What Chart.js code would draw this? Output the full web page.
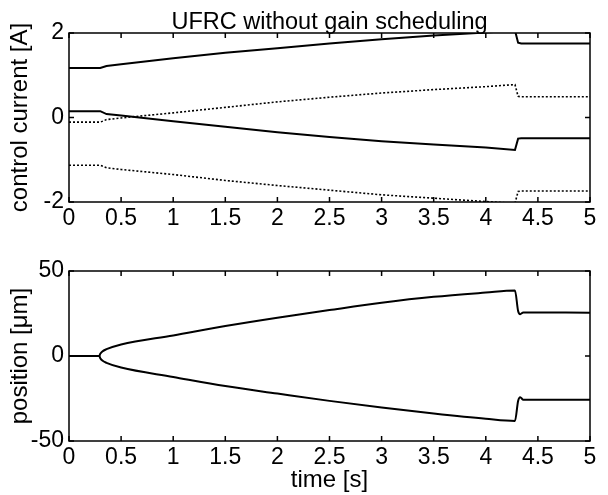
<!DOCTYPE html>
<html>
<head>
<meta charset="utf-8">
<script src="https://cdn.jsdelivr.net/npm/chart.js@4/dist/chart.umd.min.js"></script>
<style>
  html, body { margin: 0; padding: 0; background: #fff; }
  #wrap { position: relative; width: 608px; height: 495px; background: #fff; overflow: hidden; }
  canvas { position: absolute; left: 0; }
  #cTop { top: 0; }
  #cBot { top: 250px; }
</style>
</head>
<body>
<div id="wrap">
  <canvas id="cTop" width="608" height="250"></canvas>
  <canvas id="cBot" width="608" height="245"></canvas>
</div>
<script>
// ---- control currents [A] ----
const timeCurrent   = [0, 0.30, 0.36, 0.5, 1, 1.5, 2, 2.5, 3, 3.5, 4, 4.28, 4.31, 4.34, 5];
const coilUpperA    = [1.17, 1.17, 1.22, 1.26, 1.40, 1.53, 1.64, 1.75, 1.85, 1.94, 2.01, 2.06, 1.77, 1.75, 1.75];
const coilLowerA    = [0.15, 0.15, 0.08, 0.05, -0.09, -0.22, -0.35, -0.46, -0.56, -0.64, -0.71, -0.77, -0.50, -0.49, -0.49];
const coilUpperB    = [-0.11, -0.11, -0.05, -0.01, 0.11, 0.24, 0.37, 0.48, 0.58, 0.66, 0.73, 0.78, 0.50, 0.49, 0.49];
const coilLowerB    = [-1.13, -1.13, -1.19, -1.23, -1.35, -1.49, -1.61, -1.72, -1.83, -1.91, -1.99, -2.03, -1.75, -1.74, -1.74];

// ---- rotor position [um] ----
const timePosition  = [0, 0.29, 0.30, 0.32, 0.36, 0.5, 1, 1.5, 2, 2.5, 3, 3.5, 4, 4.28, 4.31, 4.33, 4.36, 5];
const positionUpper = [0, 0, 1.3, 2.7, 4.0, 6.8, 12.1, 17.6, 22.5, 27.0, 31.3, 34.8, 37.3, 38.5, 26.5, 24.6, 25.6, 25.5];
const positionLower = [0, 0, -1.3, -2.7, -4.0, -6.8, -12.3, -17.7, -22.1, -26.4, -30.3, -33.8, -36.9, -38.2, -26.5, -24.3, -25.7, -25.8];

// ---- tick labels ----
const timeTicks     = [0, 0.5, 1, 1.5, 2, 2.5, 3, 3.5, 4, 4.5, 5];
const currentTicks  = [-2, 0, 2];
const positionTicks = [-50, 0, 50];

const FONT = '"Liberation Sans", Arial, Helvetica, sans-serif';
Chart.defaults.font.family = FONT;
Chart.defaults.font.size = 23;
Chart.defaults.color = '#000';

function pairs(xs, ys) { return xs.map((x, i) => ({ x: x, y: ys[i] })); }

function line(xs, ys, dotted, smooth) {
  return {
    data: pairs(xs, ys),
    borderColor: '#000',
    borderWidth: dotted ? 1.6 : 2,
    borderDash: dotted ? [2, 2] : [],
    pointRadius: 0,
    fill: false,
    tension: 0,
    cubicInterpolationMode: smooth ? 'monotone' : 'default'
  };
}

// box around the axes with inward-pointing ticks on all four sides
const boxPlugin = {
  id: 'axesBox',
  afterDatasetsDraw(chart) {
    const { ctx, chartArea: a, scales } = chart;
    const x = scales.x, y = scales.y, len = 5;
    ctx.save();
    ctx.strokeStyle = '#000';
    ctx.lineWidth = 1.5;
    ctx.beginPath();
    x.ticks.forEach(t => {
      const px = x.getPixelForValue(t.value);
      ctx.moveTo(px, a.bottom); ctx.lineTo(px, a.bottom - len);
      ctx.moveTo(px, a.top);    ctx.lineTo(px, a.top + len);
    });
    y.ticks.forEach(t => {
      const py = y.getPixelForValue(t.value);
      ctx.moveTo(a.left, py);  ctx.lineTo(a.left + len, py);
      ctx.moveTo(a.right, py); ctx.lineTo(a.right - len, py);
    });
    ctx.stroke();
    ctx.strokeRect(a.left, a.top, a.right - a.left, a.bottom - a.top);
    ctx.restore();
  }
};

// title centred over the plotting box, sitting just above its top edge
const axesTitlePlugin = {
  id: 'axesTitle',
  afterDraw(chart, args, opts) {
    if (!opts.text) return;
    const { ctx, chartArea: a } = chart;
    ctx.save();
    ctx.font = opts.size + 'px ' + FONT;
    ctx.fillStyle = '#000';
    ctx.textAlign = 'center';
    ctx.textBaseline = 'alphabetic';
    ctx.fillText(opts.text, (a.left + a.right) / 2, a.top - opts.gap);
    ctx.restore();
  }
};

function fixedTicks(values) {
  return scale => { scale.ticks = values.map(v => ({ value: v })); };
}

function makeChart(id, datasets, cfg) {
  return new Chart(document.getElementById(id), {
    type: 'line',
    data: { datasets: datasets },
    plugins: [boxPlugin, axesTitlePlugin],
    options: {
      responsive: false,
      animation: false,
      layout: { padding: { left: 0, right: 18, top: cfg.padTop, bottom: 0 } },
      plugins: {
        legend: { display: false },
        tooltip: { enabled: false },
        title: { display: false },
        axesTitle: { text: cfg.title, size: 23.5, gap: 4 }
      },
      scales: {
        x: {
          type: 'linear', min: 0, max: 5,
          afterBuildTicks: fixedTicks(timeTicks),
          afterFit: s => { s.height = cfg.xHeight; },
          ticks: { autoSkip: false, maxRotation: 0, padding: 3, callback: v => String(v) },
          grid: { display: false, drawTicks: false },
          border: { display: false },
          title: cfg.xTitle ? {
            display: true, text: cfg.xTitle,
            font: { size: 24, lineHeight: 1.2 }, padding: { top: 0, bottom: 0 }
          } : { display: false }
        },
        y: {
          type: 'linear', min: cfg.yMin, max: cfg.yMax,
          afterBuildTicks: fixedTicks(cfg.yTicks),
          afterFit: s => { s.width = 69; },
          ticks: { padding: 5, callback: v => String(v) },
          grid: { display: false, drawTicks: false },
          border: { display: false },
          title: {
            display: true, text: cfg.yTitle,
            font: { size: 24, lineHeight: 1.2 }, padding: { top: 6, bottom: 0 }
          }
        }
      }
    }
  });
}

makeChart('cTop', [
  line(timeCurrent, coilUpperA, false, false),
  line(timeCurrent, coilLowerA, false, false),
  line(timeCurrent, coilUpperB, true, false),
  line(timeCurrent, coilLowerB, true, false)
], {
  title: 'UFRC without gain scheduling',
  padTop: 33, xHeight: 48,
  yMin: -2, yMax: 2, yTicks: currentTicks,
  yTitle: 'control current [A]'
});

makeChart('cBot', [
  line(timePosition, positionUpper, false, true),
  line(timePosition, positionLower, false, true)
], {
  title: null,
  padTop: 21, xHeight: 54,
  yMin: -50, yMax: 50, yTicks: positionTicks,
  yTitle: 'position [\u03bcm]', xTitle: 'time [s]'
});
</script>
</body>
</html>
